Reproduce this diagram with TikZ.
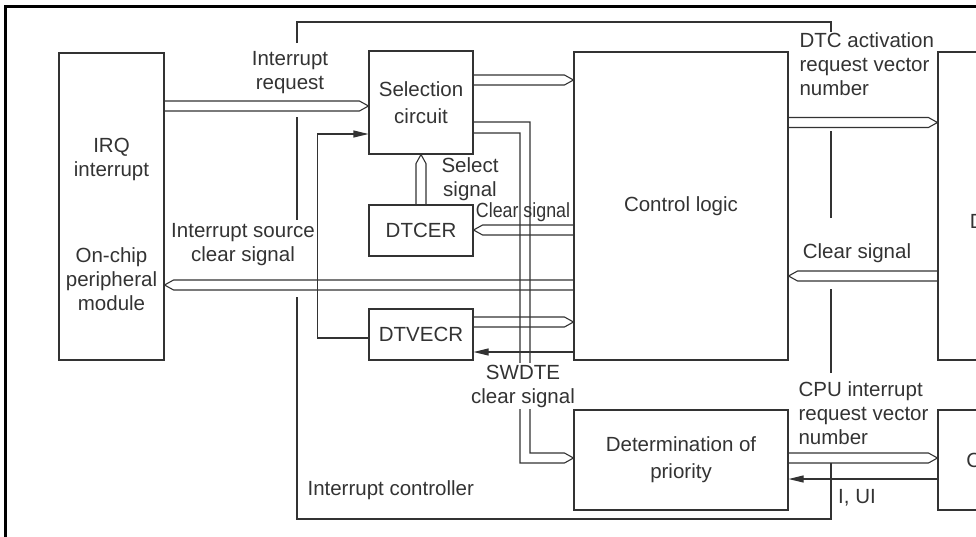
\documentclass[tikz,border=0pt]{standalone}
\usepackage{fontspec}
\setmainfont{Liberation Sans}
\usetikzlibrary{arrows.meta,calc}

% hollow bus arrows, from #1 to the edge #2
\newcommand{\hbus}[2]{\draw let \p1=(#1), \p2=(#2), \n1={sign(\x2-\x1)} in
	({\x1},{\y1+5pt}) -- ({\x2-(\n1)*9pt},{\y1+5pt}) -- ({\x2},{\y1}) -- ({\x2-(\n1)*9pt},{\y1-5pt}) -- ({\x1},{\y1-5pt});}
\newcommand{\vbus}[2]{\draw let \p1=(#1), \p2=(#2), \n1={sign(\y2-\y1)} in
	({\x1+5pt},{\y1}) -- ({\x1+5pt},{\y2-(\n1)*9pt}) -- ({\x1},{\y2}) -- ({\x1-5pt},{\y2-(\n1)*9pt}) -- ({\x1-5pt},{\y1});}

\begin{document}
\begin{tikzpicture}[x=1pt,y=-1pt,line width=1.1pt,color=black!80,
	every node/.style={font=\fontsize{20.5}{24}\selectfont},
	blk/.style={draw,align=center,inner sep=0pt},
	lbl/.style={align=center,inner sep=0pt},
	sig/.style={-{Triangle[length=15pt,width=7pt]}}]
		\useasboundingbox (0,0) rectangle (976,536);
		\clip (0,0) rectangle (976,536);
		% outer frame
		\draw[line width=3pt,black] (5,560) |- (1000,6);
		% blocks
		\node[blk,minimum width=105pt,minimum height=307pt] (irq) at (111.5,206.5) {};
		\node[lbl] (irqtxt) at (111.5,159) {IRQ\\interrupt};
		\node[lbl] (onchip) at (111.5,279) {On-chip\\peripheral\\module};
		\node[blk,minimum width=104pt,minimum height=103pt] (sel) at (421,102.5) {Selection\\[3pt]circuit};
		\node[blk,minimum width=104pt,minimum height=51pt] (dtcer) at (421,230.5) {DTCER};
		\node[blk,minimum width=104pt,minimum height=51pt] (dtvecr) at (421,334.5) {DTVECR};
		\node[blk,minimum width=214pt,minimum height=308pt] (ctrl) at (681,206) {Control logic};
		\node[blk,minimum width=214pt,minimum height=100pt] (prio) at (681,460) {Determination of\\[3pt]priority};
		\node[blk,minimum width=100pt,minimum height=308pt] (dtc) at (988,206) {};
		\node (dtctxt) at (991,221) {DTC};
		\node[blk,minimum width=100pt,minimum height=100pt] (cpu) at (988,460) {CPU};
		% interrupt controller
		\draw (297,43) |- (831,22) -- (831,32);
		\draw (297,117) -- (297,220);
		\draw (297,297) |- (831,519) -- (831,463);
		\draw (831,373) -- (831,289);
		\draw (831,218) -- (831,131);
		\node[lbl,anchor=west] (ictxt) at (307,490) {Interrupt controller};
		% buses
		\hbus{[yshift=100.5pt]irq.east}{sel.west}
		\hbus{[yshift=22.5pt]sel.east}{ctrl.west}
		\vbus{dtcer.north}{sel.south}
		\hbus{[yshift=-24pt]ctrl.west}{dtcer.east}
		\hbus{[yshift=-79pt]ctrl.west}{irq.east}
		\hbus{[yshift=12.5pt]dtvecr.east}{ctrl.west}
		\draw ([yshift=-19.5pt]sel.east) -| (530,453) -- ([xshift=-9pt,yshift=7pt]prio.west) -- ([yshift=2pt]prio.west)
			-- ([xshift=-9pt,yshift=-3pt]prio.west) -| (520,133) -- ([yshift=-30.5pt]sel.east);
		\hbus{[yshift=83.5pt]ctrl.east}{dtc.west}
		\hbus{[yshift=-70pt]dtc.west}{ctrl.east}
		\hbus{[yshift=2pt]prio.east}{cpu.west}
		% single signals
		\draw[sig] ([yshift=-146pt]ctrl.west) -- ([yshift=-17.5pt]dtvecr.east);
		\draw[sig] ([yshift=-3.5pt]dtvecr.west) -- ++(-51pt,0) |- ([yshift=-31.5pt]sel.west);
		\draw[sig] ([yshift=-19pt]cpu.west) -- ([yshift=-19pt]prio.east);
		% labels
		\node[lbl] (irqlbl) at (290,73) {Interrupt\\request};
		\node[lbl] (srclbl) at (243,245) {Interrupt source\\clear signal};
		\node[lbl] (sellbl) at (470,179) {Select\\signal};
		\node[lbl] (clrlbl) at (523,212) {\scalebox{0.87}[1]{Clear signal}};
		\node[lbl,fill=white,inner sep=2pt] (swlbl) at (523,386) {SWDTE\\clear signal};
		\node[lbl,align=left,anchor=west] (dtclbl) at (799,64) {DTC activation\\request vector\\number};
		\node[lbl] (clr2lbl) at (857,253) {Clear signal};
		\node[lbl,align=left,anchor=west] (cpulbl) at (798,413) {CPU interrupt\\request vector\\number};
		\node[lbl] (iuilbl) at (857,498) {I, UI};
\end{tikzpicture}
\end{document}
